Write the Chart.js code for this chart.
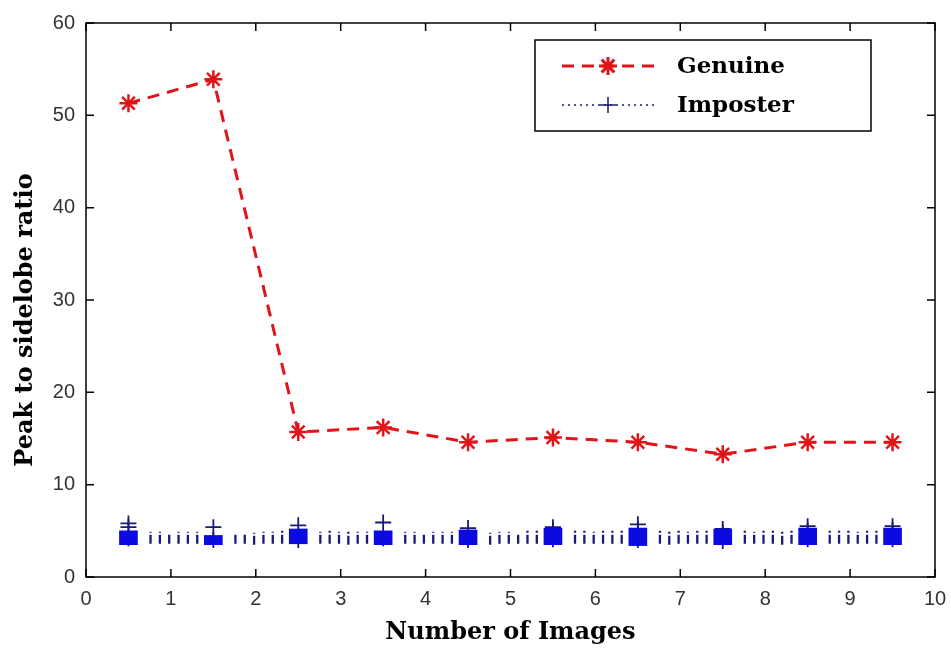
<!DOCTYPE html>
<html>
<head>
<meta charset="utf-8">
<script src="https://cdn.jsdelivr.net/npm/chart.js@4.4.1/dist/chart.umd.min.js"></script>
<style>
html, body { margin: 0; padding: 0; background: #fff; }
</style>
</head>
<body>
<canvas id="psrChart" width="951" height="655"></canvas>
<script>
// Données
const imageBins = [0.5, 1.5, 2.5, 3.5, 4.5, 5.5, 6.5, 7.5, 8.5, 9.5];
const genuinePsr = [51.3, 53.9, 15.7, 16.2, 14.6, 15.1, 14.6, 13.3, 14.6, 14.6];

// Imposteurs : scores marqués (+) par groupe
const imposterScores = [
    [5.8, 5.4, 4.2],
    [5.4, 4.0],
    [5.6, 4.0],
    [5.9, 4.2],
    [5.3, 4.0],
    [5.4, 5.0, 4.1],
    [5.7, 5.2, 4.0],
    [5.2, 4.8, 3.9],
    [5.5, 5.0, 4.1],
    [5.5, 5.1, 4.1]
];
// zone dense autour de chaque groupe (min / max)
const imposterDenseLow = [3.5, 3.5, 3.6, 3.5, 3.5, 3.5, 3.4, 3.5, 3.5, 3.5];
const imposterDenseHigh = [5.0, 4.5, 5.2, 5.0, 5.1, 5.3, 5.3, 5.2, 5.3, 5.3];

// scores intermédiaires (traits pointillés entre les groupes)
const imposterGapX = [
    0.76, 0.87, 0.98, 1.09, 1.20, 1.31,
    1.76, 1.87, 1.98, 2.09, 2.20, 2.31,
    2.76, 2.87, 2.98, 3.09, 3.20, 3.31,
    3.76, 3.87, 3.98, 4.09, 4.20, 4.31,
    4.76, 4.87, 4.98, 5.09, 5.20, 5.31,
    5.76, 5.87, 5.98, 6.09, 6.20, 6.31,
    6.76, 6.87, 6.98, 7.09, 7.20, 7.31,
    7.76, 7.87, 7.98, 8.09, 8.20, 8.31,
    8.76, 8.87, 8.98, 9.09, 9.20, 9.31
];
const imposterGapLow = [
    3.6, 3.6, 3.6, 3.6, 3.6, 3.6,
    3.6, 3.6, 3.5, 3.6, 3.6, 3.6,
    3.6, 3.6, 3.6, 3.5, 3.6, 3.6,
    3.6, 3.6, 3.6, 3.6, 3.6, 3.6,
    3.5, 3.6, 3.6, 3.6, 3.6, 3.6,
    3.6, 3.6, 3.6, 3.6, 3.6, 3.6,
    3.6, 3.5, 3.6, 3.6, 3.6, 3.6,
    3.6, 3.6, 3.6, 3.6, 3.5, 3.6,
    3.6, 3.6, 3.6, 3.6, 3.6, 3.6
];
const imposterGapHigh = [
    4.9, 4.9, 4.8, 4.9, 4.9, 4.9,
    4.7, 4.8, 4.8, 4.9, 4.9, 5.0,
    4.9, 5.0, 4.9, 5.0, 4.9, 4.9,
    4.9, 4.9, 4.8, 4.9, 4.9, 4.9,
    4.8, 4.9, 4.9, 4.8, 5.0, 5.0,
    5.0, 5.0, 4.9, 5.0, 5.0, 5.0,
    5.0, 4.9, 5.0, 4.9, 5.0, 5.0,
    5.0, 4.9, 5.0, 5.0, 4.9, 5.0,
    5.0, 5.0, 5.0, 4.9, 5.0, 5.0
];

const xTicksMax = 10;
const yTicksMax = 60;

// Construction des jeux de données
const genuineData = imageBins.map((x, i) => ({ x: x, y: genuinePsr[i] }));

const gapData = [];
imposterGapX.forEach((x, i) => {
    gapData.push({ x: x, y: imposterGapLow[i] });
    gapData.push({ x: x, y: imposterGapHigh[i] });
    gapData.push({ x: x, y: null });
});

const denseData = imageBins.map((x, i) => ({ x: x, y: [imposterDenseLow[i], imposterDenseHigh[i]] }));

const crossData = [];
imageBins.forEach((x, i) => {
    imposterScores[i].forEach(v => crossData.push({ x: x, y: v }));
});

const RED = 'rgb(225, 20, 25)';
const BLUE = 'rgb(10, 10, 225)';
const NAVY = 'rgb(25, 25, 120)';

// Ticks vers l'intérieur + cadre (style MATLAB)
const boxTicks = {
    id: 'boxTicks',
    afterDatasetsDraw(chart) {
        const { ctx, chartArea: a, scales: { x, y } } = chart;
        const len = 8;
        ctx.save();
        ctx.strokeStyle = '#000';
        ctx.lineWidth = 1.5;
        ctx.beginPath();
        x.ticks.forEach(t => {
            const px = x.getPixelForValue(t.value);
            ctx.moveTo(px, a.bottom); ctx.lineTo(px, a.bottom - len);
            ctx.moveTo(px, a.top); ctx.lineTo(px, a.top + len);
        });
        y.ticks.forEach(t => {
            const py = y.getPixelForValue(t.value);
            ctx.moveTo(a.left, py); ctx.lineTo(a.left + len, py);
            ctx.moveTo(a.right, py); ctx.lineTo(a.right - len, py);
        });
        ctx.stroke();
        ctx.strokeRect(a.left, a.top, a.right - a.left, a.bottom - a.top);
        ctx.restore();
    }
};

// Titre de l'axe Y (un peu sous le centre, comme sur la figure)
const yTitle = {
    id: 'yTitle',
    afterDraw(chart) {
        const { ctx, chartArea: a } = chart;
        ctx.save();
        ctx.translate(26, (a.top + a.bottom) / 2 + 20);
        ctx.rotate(-Math.PI / 2);
        ctx.fillStyle = '#000';
        ctx.font = 'bold 24px "DejaVu Serif"';
        ctx.textAlign = 'center';
        ctx.textBaseline = 'middle';
        ctx.fillText('Peak to sidelobe ratio', 0, 0);
        ctx.restore();
    }
};

// Légende encadrée avec trait + marqueur
const legendBox = {
    id: 'legendBox',
    afterDraw(chart) {
        const { ctx, chartArea: a } = chart;
        const bx = a.right - 400, by = a.top + 17, bw = 336, bh = 91;
        ctx.save();
        ctx.fillStyle = '#fff';
        ctx.fillRect(bx, by, bw, bh);
        ctx.strokeStyle = '#000';
        ctx.lineWidth = 1.5;
        ctx.strokeRect(bx, by, bw, bh);

        const entries = [
            { label: 'Genuine', color: RED, dash: [12, 8], width: 3, style: 'star', radius: 9, pw: 2.5, y: by + 26 },
            { label: 'Imposter', color: NAVY, dash: [2, 4], width: 1.5, style: 'cross', radius: 8, pw: 1.5, y: by + 65 }
        ];
        entries.forEach(e => {
            ctx.save();
            ctx.strokeStyle = e.color;
            ctx.lineWidth = e.width;
            ctx.setLineDash(e.dash);
            ctx.beginPath();
            ctx.moveTo(bx + 27, e.y);
            ctx.lineTo(bx + 122, e.y);
            ctx.stroke();
            ctx.setLineDash([]);
            ctx.fillStyle = e.color;
            Chart.helpers.drawPoint(ctx, { pointStyle: e.style, radius: e.radius, borderWidth: e.pw, rotation: 0 }, bx + 73, e.y);
            ctx.restore();

            ctx.fillStyle = '#000';
            ctx.font = 'bold 23px "DejaVu Serif"';
            ctx.textBaseline = 'middle';
            ctx.fillText(e.label, bx + 142, e.y + 1);
        });
        ctx.restore();
    }
};

const tickFont = { family: '"Liberation Sans", Arial, sans-serif', size: 20 };
const titleFont = { family: '"DejaVu Serif", serif', size: 24, weight: 'bold' };

new Chart(document.getElementById('psrChart').getContext('2d'), {
    type: 'line',
    data: {
        datasets: [
            {
                label: 'Genuine',
                data: genuineData,
                borderColor: RED,
                backgroundColor: RED,
                borderWidth: 3,
                borderDash: [12, 8],
                pointStyle: 'star',
                pointRadius: 9,
                pointBorderWidth: 2.5,
                pointBorderColor: RED,
                tension: 0
            },
            {
                label: 'Imposter',
                data: gapData,
                borderColor: NAVY,
                borderWidth: 2.3,
                borderDash: [9, 2, 2, 10],
                pointRadius: 0,
                spanGaps: false
            },
            {
                label: 'Imposter dense',
                type: 'bar',
                data: denseData,
                backgroundColor: BLUE,
                barThickness: 18,
                grouped: false
            },
            {
                label: 'Imposter points',
                data: crossData,
                showLine: false,
                pointStyle: 'cross',
                pointRadius: 8,
                pointBorderWidth: 1.8,
                pointBorderColor: NAVY
            }
        ]
    },
    options: {
        responsive: false,
        animation: false,
        layout: { padding: { top: 18, right: 16, left: 0, bottom: 0 } },
        plugins: {
            legend: { display: false },
            tooltip: { enabled: false }
        },
        scales: {
            x: {
                type: 'linear',
                min: 0,
                max: xTicksMax,
                offset: false,
                ticks: { stepSize: 1, padding: 10, color: '#333', font: tickFont, maxRotation: 0 },
                grid: { display: false, drawTicks: false },
                border: { display: false },
                title: { display: true, text: 'Number of Images', color: '#000', font: titleFont, padding: { top: 0, bottom: 8 } },
                afterFit(scale) {
                    scale.height = 78;
                    scale.paddingRight = 0;
                    scale.paddingLeft = 0;
                }
            },
            y: {
                type: 'linear',
                min: 0,
                max: yTicksMax,
                ticks: { stepSize: 10, padding: 11, color: '#333', font: tickFont },
                grid: { display: false, drawTicks: false },
                border: { display: false },
                title: { display: false },
                afterFit(scale) { scale.width = 86; }
            }
        }
    },
    plugins: [boxTicks, yTitle, legendBox]
});
</script>
</body>
</html>
